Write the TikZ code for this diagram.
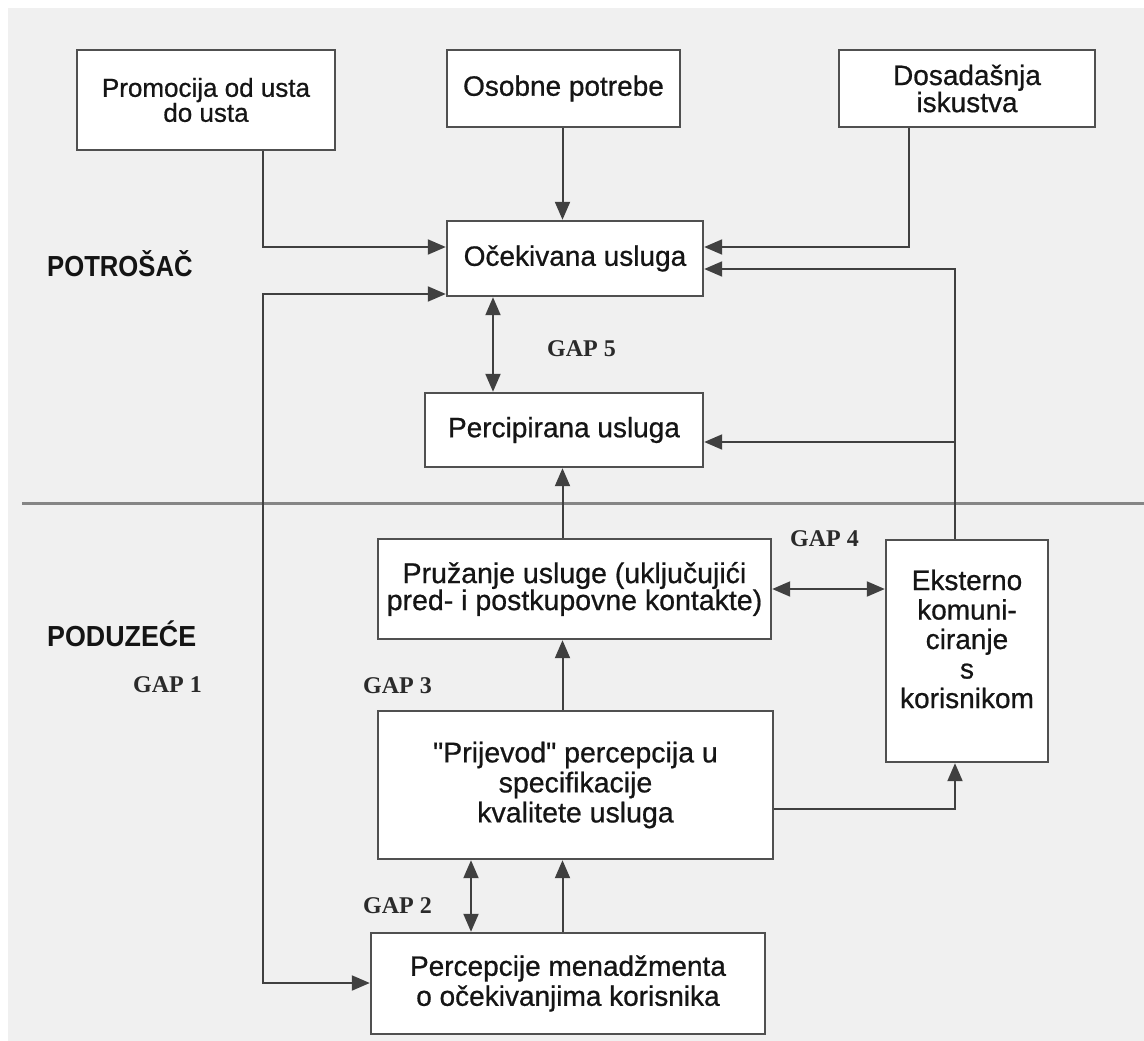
\documentclass[tikz,border=0pt]{standalone}
\usepackage{fontspec}
\setmainfont{Liberation Sans}
\newfontfamily\boxfont{Liberation Sans}[FakeBold=0.7]
\newfontfamily\gapfont{Liberation Serif}
\usepackage{graphicx}
\usetikzlibrary{arrows.meta}
\definecolor{bg}{HTML}{F0F0F0}
\definecolor{boxc}{HTML}{505050}
\definecolor{linec}{HTML}{404040}
\definecolor{txtc}{HTML}{151515}
\definecolor{gapc}{HTML}{2A2A2A}
\definecolor{sepc}{HTML}{858585}
\tikzset{
  box/.style={draw=boxc, line width=2.4pt, fill=white, inner sep=0pt, align=center, text=txtc},
  txt/.style={inner sep=0pt, align=center, text=txtc},
  conn/.style={draw=linec, line width=2pt},
  arr/.style={conn, -{Triangle[length=18pt,width=15pt]}},
  darr/.style={conn, {Triangle[length=18pt,width=15pt]}-{Triangle[length=18pt,width=15pt]}},
  gap/.style={font=\gapfont\bfseries\fontsize{24}{26}\selectfont, text=gapc, inner sep=0pt, anchor=base west},
  side/.style={font=\bfseries\fontsize{29}{31}\selectfont, text=black!92, inner sep=0pt, anchor=base west},
}
\newcommand{\bsz}[2]{\boxfont\fontsize{#1}{#2}\selectfont}
\begin{document}
\begin{tikzpicture}[x=1pt,y=-1pt]
\useasboundingbox (0,0) rectangle (1144,1041);
\fill[white] (0,0) rectangle (1144,1041);
\fill[bg] (8,8) rectangle (1144,1041);
\draw[sepc, line width=3pt] (22,503) -- (1144,503);

% boxes
\node[box, minimum width=258pt, minimum height=100pt, font=\bsz{26}{25}] (prom) at (206,100) {Promocija od usta\\do usta};
\node[box, minimum width=233pt, minimum height=77pt, font=\bsz{28}{30}] (osob) at (563.5,88.5) {Osobne potrebe};
\node[box, minimum width=256pt, minimum height=77pt, font=\bsz{28}{25}] (dosa) at (967,88.5) {Dosadašnja\\iskustva};
\node[box, minimum width=256pt, minimum height=75pt, font=\bsz{28}{30}] (ocek) at (575,258.5) {Očekivana usluga};
\node[box, minimum width=278pt, minimum height=74pt, font=\bsz{28}{30}] (perc) at (564,430) {Percipirana usluga};
\node[box, minimum width=393pt, minimum height=100pt, font=\bsz{28.5}{27}] (pruz) at (574.5,589) {Pružanje usluge (uključujići\\pred- i postkupovne kontakte)};
\node[box, minimum width=162pt, minimum height=222pt] (eks) at (967,651) {};
\node[txt, font=\bsz{28}{29.5}] (eksT) at (967,639) {Eksterno\\komuni-\\ciranje\\s\\korisnikom};
\node[box, minimum width=395pt, minimum height=148pt, font=\bsz{28.5}{30}] (prij) at (575.5,785) {"Prijevod" percepcija u\\specifikacije\\kvalitete usluga};
\node[box, minimum width=394pt, minimum height=101pt, font=\bsz{28}{30}] (pmen) at (568,983.5) {Percepcije menadžmenta\\o očekivanjima korisnika};

% side labels
\node[side] (potr) at (47,276) {\scalebox{0.885}[1]{POTROŠAČ}};
\node[side] (podu) at (47,646) {\scalebox{0.925}[1]{PODUZEĆE}};

% gap labels
\node[gap] (gap5) at (547,356) {GAP 5};
\node[gap] (gap4) at (790,546) {GAP 4};
\node[gap] (gap1) at (133,692) {GAP 1};
\node[gap] (gap3) at (363,693) {GAP 3};
\node[gap] (gap2) at (363,913) {GAP 2};

% bend coordinates
\coordinate (pL) at (263,247);
\coordinate (dR) at (909,247);
\coordinate (eU) at (955,269);
\coordinate (eP) at (955,442);
\coordinate (lT) at (263,294);
\coordinate (lB) at (263,983);
\coordinate (g5) at (493,0);
\coordinate (mid) at (562.5,0);
\coordinate (g4) at (0,589);
\coordinate (pE) at (955,809);
\coordinate (g2) at (471,0);

% connectors
\draw[arr] (prom.south -| pL) -- (pL) -- (ocek.west |- pL);
\draw[arr] (osob.south -| mid) -- (ocek.north -| mid);
\draw[arr] (dosa.south -| dR) -- (dR) -- (ocek.east |- dR);
\draw[arr] (eks.north -| eU) -- (eU) -- (ocek.east |- eU);
\draw[arr] (eP) -- (perc.east |- eP);
\draw[darr] (pmen.west |- lB) -- (lB) -- (lT) -- (ocek.west |- lT);
\draw[darr] (ocek.south -| g5) -- (perc.north -| g5);
\draw[arr] (pruz.north -| mid) -- (perc.south -| mid);
\draw[darr] (pruz.east |- g4) -- (eks.west |- g4);
\draw[arr] (prij.north -| mid) -- (pruz.south -| mid);
\draw[arr] (prij.east |- pE) -- (pE) -- (eks.south -| pE);
\draw[darr] (prij.south -| g2) -- (pmen.north -| g2);
\draw[arr] (pmen.north -| mid) -- (prij.south -| mid);
\end{tikzpicture}
\end{document}
